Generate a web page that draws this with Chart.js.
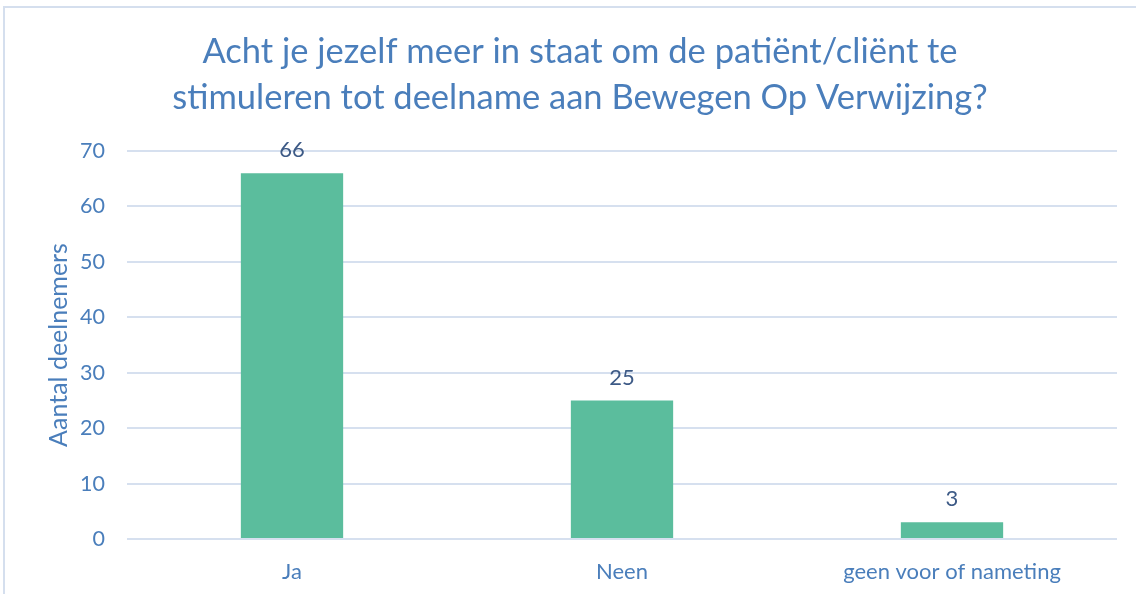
<!DOCTYPE html>
<html>
<head>
<meta charset="utf-8">
<script src="https://cdn.jsdelivr.net/npm/chart.js@4/dist/chart.umd.min.js"></script>
<style>
html,body{margin:0;padding:0;background:#fff;}
#wrap{width:1136px;height:594px;position:relative;}
</style>
</head>
<body>
<div id="wrap"><canvas id="c" width="1136" height="594"></canvas></div>
<script>
const categories = ["Ja", "Neen", "geen voor of nameting"];
const values = [66, 25, 3];
const yTicks = [0, 10, 20, 30, 40, 50, 60, 70];
const titleLines = ["Acht je jezelf meer in staat om de patiënt/cliënt te", "stimuleren tot deelname aan Bewegen Op Verwijzing?"];
const yAxisTitle = "Aantal deelnemers";

const FONT = "Lato, 'Liberation Sans', sans-serif";
const BLUE = "#4A7EBB";

const frame = {
  id: 'frame',
  beforeDraw(chart) {
    const ctx = chart.ctx;
    ctx.save();
    ctx.fillStyle = '#fff';
    ctx.fillRect(0, 0, chart.width, chart.height);
    ctx.strokeStyle = '#D5DFEE';
    ctx.lineWidth = 2;
    ctx.strokeRect(4, 7, 1300, 800);
    ctx.restore();
  }
};

const dataLabels = {
  id: 'dataLabels',
  afterDatasetsDraw(chart) {
    const ctx = chart.ctx;
    const meta = chart.getDatasetMeta(0);
    ctx.save();
    ctx.font = "22px " + FONT;
    ctx.fillStyle = "#3D5A86";
    ctx.textAlign = 'center';
    ctx.textBaseline = 'middle';
    meta.data.forEach((bar, i) => {
      ctx.fillText(String(chart.data.datasets[0].data[i]), bar.x, bar.y - 23);
    });
    ctx.restore();
  }
};

new Chart(document.getElementById('c'), {
  type: 'bar',
  data: {
    labels: categories,
    datasets: [{
      data: values,
      backgroundColor: '#5BBD9D',
      borderWidth: 0,
      barPercentage: 0.62,
      categoryPercentage: 0.5
    }]
  },
  options: {
    responsive: false,
    animation: false,
    devicePixelRatio: 1,
    layout: { padding: { left: 24, right: 0, top: 0, bottom: 0 } },
    plugins: {
      legend: { display: false },
      tooltip: { enabled: false },
      title: {
        display: true,
        text: titleLines,
        color: BLUE,
        font: { family: FONT, size: 34.5, weight: 'normal', lineHeight: 1.333 },
        padding: { top: 29, bottom: 30 }
      }
    },
    scales: {
      x: {
        grid: { display: false, drawTicks: false },
        border: { display: false },
        ticks: { color: BLUE, font: { family: FONT, size: 22 }, padding: 20 },
        afterFit(s) { s.height = 55; }
      },
      y: {
        min: 0, max: 70,
        afterBuildTicks(s) { s.ticks = yTicks.map(v => ({ value: v })); },
        grid: { color: '#D6E0EF', lineWidth: 2, drawTicks: false },
        border: { display: false },
        ticks: { color: BLUE, font: { family: FONT, size: 21.5 }, padding: 22 },
        title: {
          display: true, text: yAxisTitle, color: BLUE,
          font: { family: FONT, size: 25 }, padding: { top: 20, bottom: 0 }
        },
        afterFit(s) { s.width = 103; }
      },
      yRight: {
        position: 'right',
        min: 0, max: 70,
        grid: { display: false, drawTicks: false },
        border: { display: false },
        ticks: { display: false },
        afterFit(s) { s.width = 19; }
      }
    }
  },
  plugins: [frame, dataLabels]
});
</script>
</body>
</html>
